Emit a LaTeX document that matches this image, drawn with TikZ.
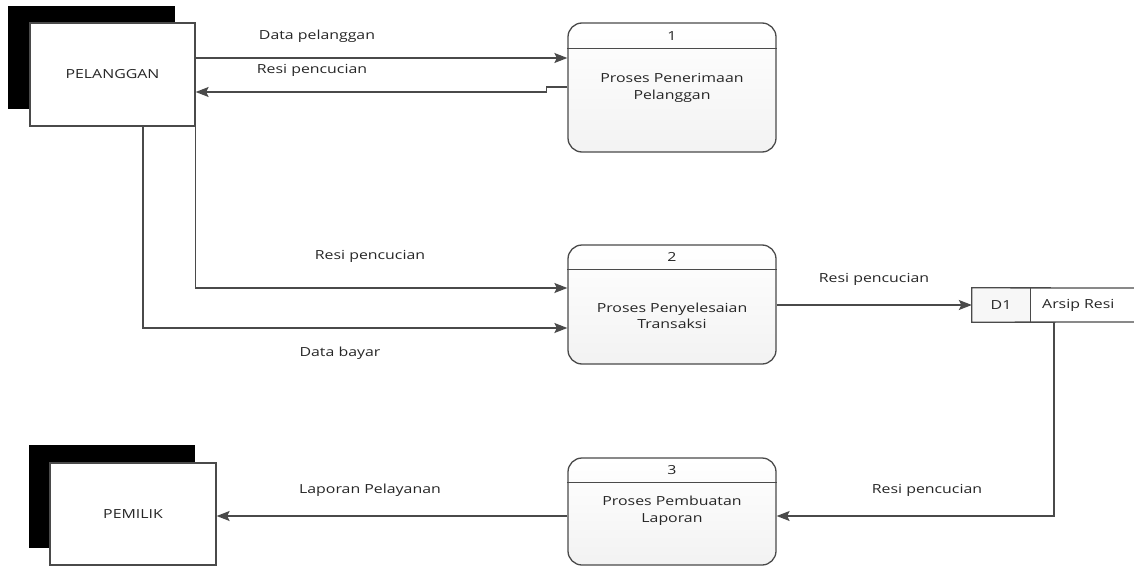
\documentclass[tikz,border=0pt]{standalone}
\usepackage{fontspec}
\setmainfont{Open Sans}[FakeStretch=1.27]
\usetikzlibrary{arrows.meta,calc}
\definecolor{ln}{HTML}{4A4A4A}
\definecolor{txt}{HTML}{262626}
\tikzset{
  entity/.style={draw=ln, line width=1.3pt, fill=white, minimum width=165pt, minimum height=103pt, inner sep=0pt, text=txt, font=\fontsize{12.5}{15}\selectfont},
  shadowbox/.style={fill=black, draw=none},
  procbox/.style={draw=ln, line width=1.3pt, rounded corners=14pt, top color=white, bottom color=gray!10, minimum width=208pt, inner sep=0pt},
  ptext/.style={align=center, text=txt, font=\fontsize{12.5}{16.5}\selectfont, inner sep=0pt},
  lbl/.style={text=txt, font=\fontsize{12.5}{15}\selectfont, inner sep=0pt},
  flow/.style={draw=ln, line width=1.3pt, -{Stealth[length=13pt,width=10pt,inset=2.5pt]}},
  plain/.style={draw=ln, line width=1.3pt},
}
\begin{document}
\begin{tikzpicture}[x=1pt,y=-1pt]
\useasboundingbox (0,0) rectangle (1134,567);
% helper coordinates (levels)
\coordinate (y58) at (0,58);
\coordinate (y87) at (0,87);
\coordinate (y92) at (0,92);
\coordinate (y288) at (0,288);
\coordinate (y328) at (0,328);
\coordinate (y516) at (0,516);
\coordinate (x143) at (143,0);
\coordinate (x1054) at (1054,0);

% PELANGGAN
\fill[shadowbox] (8,6) rectangle (175,109);
\node[entity] (pel) at (112.5,74.5) {PELANGGAN};

% PEMILIK
\fill[shadowbox] (29,445) rectangle (195,548);
\node[entity, minimum width=166pt, minimum height=102pt] (pem) at (133,514) {PEMILIK};

% Process 1
\node[procbox, minimum height=129pt] (p1) at (672,87.5) {};
\draw[plain] ($(p1.north west)+(0,26)$) -- ($(p1.north east)+(0,26)$);
\node[ptext] (p1n) at (672,36) {1};
\node[ptext] (p1t) at (672,88) {Proses Penerimaan\\Pelanggan};

% Process 2
\node[procbox, minimum height=119pt] (p2) at (672,304.5) {};
\draw[plain] ($(p2.north west)+(0,25)$) -- ($(p2.north east)+(0,25)$);
\node[ptext] (p2n) at (672,257) {2};
\node[ptext] (p2t) at (672,316) {Proses Penyelesaian\\Transaksi};

% Process 3
\node[procbox, minimum height=107pt] (p3) at (672,511.5) {};
\draw[plain] ($(p3.north west)+(0,25)$) -- ($(p3.north east)+(0,25)$);
\node[ptext] (p3n) at (672,470) {3};
\node[ptext] (p3t) at (672,510.5) {Proses Pembuatan\\Laporan};

% Data store D1
\node[inner sep=0pt, minimum width=58pt, minimum height=34pt, fill=gray!6] (d1) at (1001,305) {};
\node[lbl] (d1id) at (d1) {D1};
\node[lbl, anchor=west] (d1name) at (1042,305) {Arsip Resi};
\draw[plain] (1134,288) -- (d1.north west) -- (d1.south west) -- (1134,322);
\draw[plain] (d1.north east) -- (d1.south east);

% Flows
\draw[flow] (pel.east |- y58) -- (p1.west |- y58);
\draw[flow] (p1.west |- y87) -- ++(-21,0) -- ++(0,5) -- (pel.east |- y92);
\draw[flow] (pel.south east) |- (p2.west |- y288);
\draw[flow] (pel.south -| x143) |- (p2.west |- y328);
\draw[flow] (p2.east |- d1.west) -- (d1.west);
\draw[flow] (d1.south -| x1054) |- (p3.east |- y516);
\draw[flow] (p3.west |- y516) -- (pem.east |- y516);

% Labels
\node[lbl] (l1) at (317,36) {Data pelanggan};
\node[lbl] (l2) at (312,70) {Resi pencucian};
\node[lbl] (l3) at (370,256) {Resi pencucian};
\node[lbl] (l4) at (340,353) {Data bayar};
\node[lbl] (l5) at (874,279) {Resi pencucian};
\node[lbl] (l6) at (927,490) {Resi pencucian};
\node[lbl] (l7) at (370,490) {Laporan Pelayanan};
\end{tikzpicture}
\end{document}
